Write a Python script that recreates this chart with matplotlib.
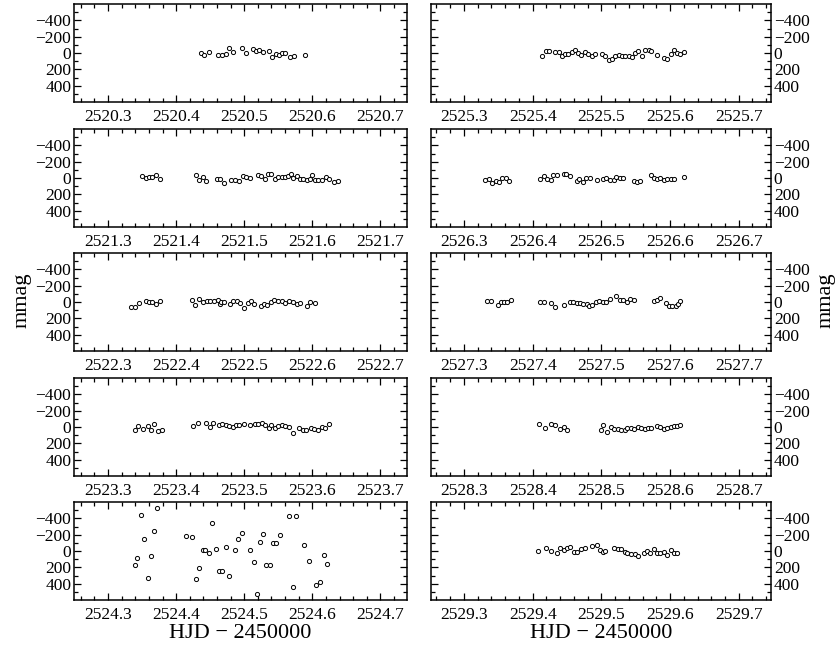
import numpy as np
import matplotlib
matplotlib.use("Agg")
import matplotlib.pyplot as plt
from matplotlib.ticker import FixedLocator, FormatStrFormatter, MultipleLocator

plt.rcParams['font.family'] = ['Liberation Serif', 'DejaVu Serif']
plt.rcParams['mathtext.fontset'] = 'stix'

# Nightly light curves: HJD - 2450000 and differential magnitude (mmag)
nights = [2520, 2521, 2522, 2523, 2524, 2525, 2526, 2527, 2528, 2529]

t_2520 = [.436, .441, .448, .461, .467, .473, .478, .483, .496, .502, .513, .517,
          .522, .527, .536, .541, .546, .551, .556, .560, .567, .573, .589]
m_2520 = [0, 20, -8, 20, 20, 8, -56, -8, -60, 0, -48, -20,
          -40, -8, -20, 52, 12, 20, 0, 0, 52, 40, 20]

t_2521 = [.350, .355, .360, .365, .370, .376, .429, .434, .439, .444, .460, .465,
          .470, .481, .487, .492, .498, .503, .508, .520, .525, .531, .535, .540,
          .545, .550, .555, .560, .564, .569, .572, .577, .582, .587, .592, .596,
          .600, .604, .609, .614, .620, .624, .632, .638]
m_2521 = [-20, 0, -12, -12, -32, 8, -32, 28, -12, 40, 8, 16,
          56, 28, 28, 40, -24, -12, -4, -32, -24, 16, -52, -52,
          8, -12, -12, -12, -24, -44, 0, -24, 8, 16, 28, 8,
          -40, 20, 28, 28, -12, 8, 48, 40]

t_2522 = [.334, .339, .345, .355, .360, .365, .371, .377, .423, .428, .434, .440,
          .445, .450, .455, .461, .465, .466, .471, .479, .484, .489, .494, .500,
          .505, .510, .515, .524, .529, .534, .539, .544, .549, .555, .560, .566,
          .571, .577, .582, .592, .597, .604]
m_2522 = [64, 64, 12, -16, 0, 0, 20, -8, -20, 40, -40, 4,
          -8, -8, -8, -20, 24, 0, 0, 24, -8, -16, 12, 72,
          12, -16, 20, 52, 24, 40, 0, -28, -8, -8, 12, -8,
          0, 20, 8, 44, 0, 12]

t_2523 = [.339, .344, .351, .358, .363, .368, .373, .379, .425, .432, .444, .449,
          .454, .463, .468, .473, .478, .483, .488, .493, .499, .509, .516, .520,
          .526, .531, .536, .540, .545, .550, .556, .560, .566, .571, .581, .586,
          .591, .598, .603, .609, .614, .619, .624]
m_2523 = [40, -8, 20, -8, 32, -40, 52, 32, -12, -52, -52, 0,
          -52, -28, -40, -20, -12, 0, -28, -28, -32, -20, -40, -40,
          -52, -28, 12, -28, 8, -12, -20, -12, 0, 68, 8, 32,
          40, 8, 28, 40, 0, 8, -40]

t_2524 = [.339, .343, .349, .353, .358, .363, .367, .372, .415, .424, .429, .434,
          .439, .443, .448, .452, .459, .463, .468, .473, .478, .487, .491, .496,
          .508, .514, .519, .523, .528, .532, .538, .542, .547, .552, .566, .571,
          .576, .588, .595, .605, .611, .617, .622]
m_2524 = [174, 83, -444, -143, 329, 63, -246, -531, -186, -170, 348, 210,
          -8, -16, 24, -337, -24, 249, 249, -51, 305, -8, -143, -218,
          -16, 139, 527, -111, -214, 170, 174, -95, -95, -194, -424, 436,
          -424, -75, 127, 420, 380, 48, 162]

t_2525 = [.414, .419, .424, .433, .438, .443, .447, .452, .457, .462, .466, .471,
          .476, .481, .486, .491, .501, .506, .511, .516, .520, .525, .530, .535,
          .540, .545, .549, .554, .559, .564, .569, .573, .581, .591, .596, .601,
          .606, .610, .615, .621]
m_2525 = [32, -20, -20, -12, -8, 32, 12, 8, -12, -40, 0, 20,
          -8, 12, 40, 8, 12, 40, 80, 68, 32, 20, 40, 32,
          40, 48, 0, -20, 40, -40, -32, -20, 28, 60, 68, 8,
          -40, 0, 12, -16]

t_2526 = [.331, .336, .341, .346, .351, .356, .361, .366, .411, .416, .421, .426,
          .430, .435, .445, .449, .455, .464, .468, .473, .478, .483, .493, .502,
          .507, .512, .518, .522, .527, .532, .547, .552, .557, .572, .576, .581,
          .586, .591, .596, .601, .606, .620]
m_2526 = [28, 16, 60, 40, 48, 0, 0, 40, 16, -24, 8, 20,
          -32, -32, -52, -44, -24, 40, 8, 48, -4, -4, 28, 16,
          -4, 20, 28, -12, 0, 0, 40, 48, 40, -40, -4, 8,
          -4, 20, 8, 8, 8, -12]

t_2527 = [.334, .339, .349, .354, .358, .363, .368, .411, .416, .426, .432, .445,
          .454, .459, .464, .469, .474, .479, .482, .487, .492, .497, .502, .507,
          .513, .522, .527, .532, .537, .542, .547, .576, .581, .586, .594, .598,
          .603, .608, .611, .615]
m_2527 = [-8, -16, 40, 0, 0, 0, -20, 0, 0, 12, 60, 32,
          0, 0, 12, 12, 24, 24, 52, 40, 0, -8, 0, 0,
          -40, -68, -28, -20, 0, -40, -20, -8, -28, -48, 12, 44,
          52, 44, 20, -8]

t_2528 = [.409, .418, .427, .432, .440, .445, .450, .499, .503, .508, .514, .519,
          .524, .529, .534, .538, .543, .548, .553, .558, .563, .568, .573, .581,
          .586, .591, .596, .601, .606, .610, .614]
m_2528 = [-40, 8, -40, -20, 20, 0, 40, 40, -28, 60, 0, 20,
          20, 32, 32, 12, 12, 20, 0, 12, 28, 12, 8, -12,
          0, 28, 8, 0, -12, -8, -20]

t_2529 = [.408, .420, .427, .435, .440, .445, .450, .455, .460, .465, .471, .476,
          .487, .493, .498, .502, .506, .519, .524, .529, .534, .538, .543, .549,
          .554, .562, .567, .571, .576, .581, .586, .591, .595, .601, .606, .610]
m_2529 = [0, -40, 0, 28, -32, -8, -32, -48, 8, 8, -28, -32,
          -60, -72, -8, 8, 0, -32, -20, -24, 16, 28, 40, 40,
          56, 28, 0, 28, -20, 28, 28, 16, 48, -8, 24, 28]

times = {2520: t_2520, 2521: t_2521, 2522: t_2522, 2523: t_2523, 2524: t_2524,
         2525: t_2525, 2526: t_2526, 2527: t_2527, 2528: t_2528, 2529: t_2529}
mags = {2520: m_2520, 2521: m_2521, 2522: m_2522, 2523: m_2523, 2524: m_2524,
        2525: m_2525, 2526: m_2526, 2527: m_2527, 2528: m_2528, 2529: m_2529}

ytick_major = [-400, -200, 0, 200, 400]
ytick_minor = [-500, -300, -100, 100, 300, 500]

W, H = 840, 650
fig = plt.figure(figsize=(W / 100, H / 100), dpi=100)

col_px = [(74, 407, 0.250, 0.739), (431, 771, 0.252, 0.747)]
row_top_px = [4, 129, 253, 378, 502]
panel_h = 98

for i, day in enumerate(nights):
    col = i // 5
    row = i % 5
    x0, x1, f0, f1 = col_px[col]
    top = row_top_px[row]
    ax = fig.add_axes([x0 / W, 1 - (top + panel_h) / H, (x1 - x0) / W, panel_h / H])
    t = day + np.asarray(times[day])
    ax.plot(t, mags[day], linestyle='none', marker='o', ms=3.0,
            mfc='white', mec='black', mew=0.7)
    ax.set_xlim(day + f0, day + f1)
    ax.set_ylim(600, -600)
    ax.xaxis.set_major_locator(FixedLocator([day + k / 10 for k in range(3, 8)]))
    ax.xaxis.set_minor_locator(MultipleLocator(0.02))
    ax.xaxis.set_major_formatter(FormatStrFormatter('%.1f'))
    ax.yaxis.set_major_locator(FixedLocator(ytick_major))
    ax.yaxis.set_minor_locator(FixedLocator(ytick_minor))
    ax.tick_params(which='both', direction='in', top=True, bottom=True,
                   left=True, right=True, labelsize=12.5, width=0.9)
    ax.tick_params(which='major', length=5)
    ax.tick_params(which='minor', length=2.8)
    ax.tick_params(axis='y', pad=2)
    ax.tick_params(axis='x', pad=5)
    if col == 1:
        ax.tick_params(axis='y', labelleft=False, labelright=True)
    for s in ax.spines.values():
        s.set_linewidth(1.1)
    if row == 4:
        ax.set_xlabel('HJD \u2212 2450000', fontsize=16, labelpad=1)

fig.text(22 / W, 1 - 300 / H, 'mmag', rotation=90, fontsize=16,
         ha='center', va='center')
fig.text(826 / W, 1 - 300 / H, 'mmag', rotation=90, fontsize=16,
         ha='center', va='center')

fig.savefig('out.png', dpi=100)
